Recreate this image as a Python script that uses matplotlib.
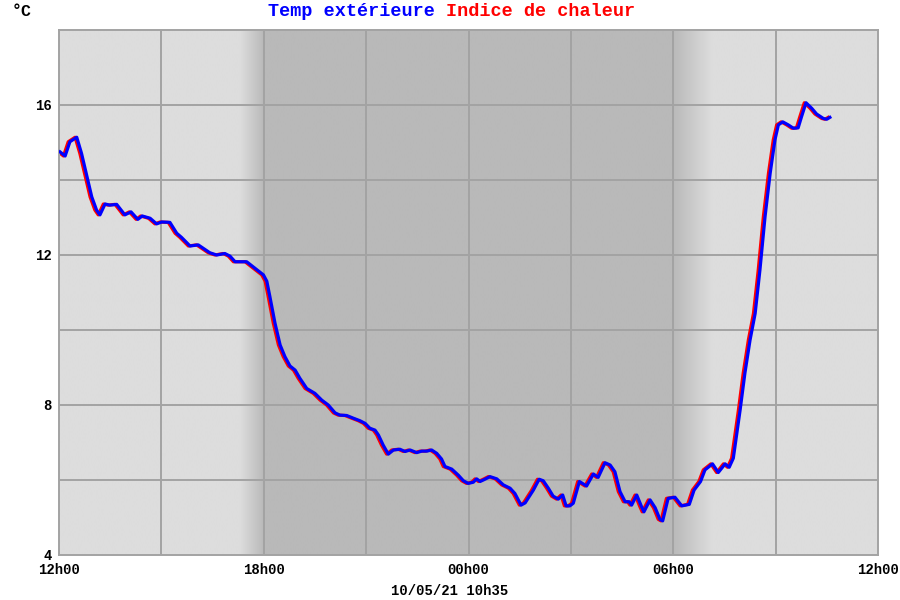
import numpy as np
import matplotlib
matplotlib.use("Agg")
import matplotlib.pyplot as plt
from matplotlib.colors import LinearSegmentedColormap

# hours since 12h00 (10/05/21 12h00 -> next day 12h00)
times = [0.03, 0.18, 0.32, 0.52, 0.66, 0.81, 0.96, 1.10, 1.20, 1.35, 1.49, 1.69, 1.93, 2.11,
         2.31, 2.44, 2.67, 2.86, 3.01, 3.25, 3.45, 3.59, 3.84, 4.08, 4.42, 4.62, 4.86, 5.01,
         5.16, 5.50, 5.74, 5.99, 6.09, 6.18, 6.33, 6.48, 6.62, 6.77, 6.92, 7.06, 7.26, 7.50,
         7.70, 7.89, 8.09, 8.23, 8.43, 8.62, 8.82, 8.97, 9.11, 9.26, 9.36, 9.50, 9.65, 9.80,
         9.99, 10.14, 10.29, 10.48, 10.63, 10.78, 10.92, 11.07, 11.21, 11.31, 11.51, 11.70,
         11.85, 11.99, 12.14, 12.24, 12.34, 12.48, 12.63, 12.83, 13.02, 13.22, 13.36, 13.54,
         13.66, 13.90, 14.07, 14.19, 14.34, 14.48, 14.63, 14.76, 14.86, 14.97, 15.07, 15.25,
         15.46, 15.66, 15.80, 16.00, 16.15, 16.29, 16.44, 16.59, 16.71, 16.78, 16.93, 17.07,
         17.14, 17.32, 17.47, 17.61, 17.69, 17.85, 18.05, 18.25, 18.47, 18.61, 18.80, 18.93,
         19.15, 19.32, 19.52, 19.64, 19.76, 19.96, 20.10, 20.25, 20.40, 20.54, 20.69, 20.84,
         20.98, 21.08, 21.21, 21.37, 21.52, 21.66, 21.76, 21.89, 22.06, 22.20, 22.40, 22.50,
         22.59]
temp_ext = [14.75, 14.64, 15.02, 15.14, 14.71, 14.13, 13.55, 13.20, 13.07, 13.36, 13.33, 13.35,
            13.07, 13.15, 12.95, 13.04, 12.98, 12.83, 12.88, 12.87, 12.58, 12.47, 12.24, 12.27,
            12.06, 12.00, 12.04, 11.97, 11.82, 11.82, 11.65, 11.47, 11.30, 10.89, 10.18, 9.60,
            9.29, 9.04, 8.93, 8.71, 8.44, 8.31, 8.13, 8.00, 7.79, 7.73, 7.72, 7.65, 7.58, 7.51,
            7.38, 7.33, 7.20, 6.93, 6.69, 6.80, 6.82, 6.76, 6.80, 6.73, 6.77, 6.77, 6.80, 6.71,
            6.56, 6.36, 6.29, 6.13, 5.98, 5.91, 5.94, 6.03, 5.96, 6.02, 6.09, 6.03, 5.87, 5.78,
            5.64, 5.33, 5.39, 5.73, 6.02, 5.98, 5.78, 5.57, 5.49, 5.60, 5.31, 5.31, 5.38, 5.96,
            5.84, 6.16, 6.07, 6.46, 6.40, 6.22, 5.69, 5.42, 5.42, 5.33, 5.60, 5.29, 5.15, 5.47,
            5.26, 4.95, 4.91, 5.51, 5.54, 5.31, 5.35, 5.73, 5.96, 6.27, 6.43, 6.20, 6.43, 6.34,
            6.58, 7.87, 8.85, 9.73, 10.44, 11.60, 13.02, 14.18, 15.07, 15.47, 15.55, 15.47,
            15.38, 15.39, 15.69, 16.06, 15.91, 15.76, 15.64, 15.62, 15.67]
# heat index equals outdoor temp here; its samples are time-stamped slightly earlier
heat_lead = 0.05
heat_times = [t - heat_lead for t in times]
heat_index = list(temp_ext)

x_ticks = [0, 6, 12, 18, 24]
x_labels = ["12h00", "18h00", "00h00", "06h00", "12h00"]
y_ticks = [4, 8, 12, 16]
y_labels = ["4", "8", "12", "16"]
date_text = "10/05/21 10h35"
unit_text = "°C"

# night shading (hours since 12h00)
dusk_start, dusk_end = 5.3, 6.0
dawn_start, dawn_end = 18.0, 19.15

MONO = ["Liberation Mono", "DejaVu Sans Mono"]

fig = plt.figure(figsize=(9, 6), dpi=100)
ax = fig.add_axes([59 / 900, 45 / 600, 819 / 900, 525 / 600])
ax.set_xlim(0, 24)
ax.set_ylim(4, 18)

# background with gradient night band
xs = np.linspace(0, 24, 2000)
night = np.interp(xs, [0, dusk_start, dusk_end, dawn_start, dawn_end, 24], [0, 0, 1, 1, 0, 0])
cmap = LinearSegmentedColormap.from_list("nb", ["#dddddd", "#b9b9b9"])
ax.imshow(night[np.newaxis, :], extent=[0, 24, 4, 18], aspect="auto", cmap=cmap,
          vmin=0, vmax=1, zorder=0, interpolation="bilinear")

for v in np.arange(3, 24, 3):
    ax.axvline(v, color="#a3a3a3", lw=1.4, zorder=1)
for v in np.arange(6, 18, 2):
    ax.axhline(v, color="#a3a3a3", lw=1.4, zorder=1)

ax.plot(heat_times, heat_index, color="#ff0000", lw=2.3, zorder=2, solid_joinstyle="round")
ax.plot(times, temp_ext, color="#0000ff", lw=2.3, zorder=3, solid_joinstyle="round")

for s in ax.spines.values():
    s.set_color("#a3a3a3")
    s.set_linewidth(1.4)

ax.set_xticks(x_ticks)
ax.set_xticklabels(x_labels, fontfamily=MONO, fontweight="bold", fontsize=10)
ax.set_yticks(y_ticks)
ax.set_yticklabels(y_labels, fontfamily=MONO, fontweight="bold", fontsize=10)
ax.tick_params(length=0, pad=5)
ax.tick_params(axis="x", pad=6)

fig.text(0.5, 1 - 591 / 600, date_text, ha="center", va="center",
         fontfamily=MONO, fontweight="bold", fontsize=10)
fig.text(12 / 900, 1 - 12 / 600, unit_text, ha="left", va="center",
         fontfamily=MONO, fontweight="bold", fontsize=12)
fig.text(445.5 / 900, 1 - 11 / 600, "Temp extérieure ", ha="right", va="center",
         fontfamily=MONO, fontweight="bold", fontsize=13.3, color="#0000ff")
fig.text(445.5 / 900, 1 - 11 / 600, "Indice de chaleur", ha="left", va="center",
         fontfamily=MONO, fontweight="bold", fontsize=13.3, color="#ff0000")

fig.savefig("out.png", dpi=100)
